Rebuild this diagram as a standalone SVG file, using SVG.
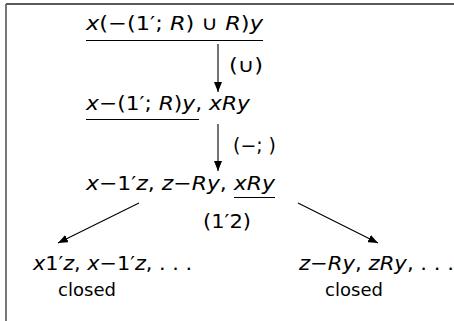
<svg xmlns="http://www.w3.org/2000/svg" width="454" height="321" viewBox="0 0 454 321">
<style>
text{font-family:"DejaVu Sans","Liberation Sans",sans-serif;fill:#000}
.m{font-size:20px}
.i{font-style:italic}
.lbl{font-size:19px}
.sm{font-size:18px}
.ul{stroke:#000;stroke-width:1.2}
.c{stroke:#000;stroke-width:1.1;fill:none}
</style>
<defs>
<marker id="ah" viewBox="0 0 10 8" refX="10" refY="4" markerWidth="10" markerHeight="8" markerUnits="userSpaceOnUse" orient="auto">
<path d="M0,0 L10,4 L0,8 Z" fill="#000"/>
</marker>
</defs>
<g id="frame">
<line x1="6" y1="4" x2="454" y2="4" stroke="#222" stroke-width="1.6"/>
<line x1="6" y1="4" x2="6" y2="321" stroke="#555" stroke-width="1.6"/>
</g>
<g id="n1">
<text class="m" x="86" y="30" textLength="177" lengthAdjust="spacingAndGlyphs"><tspan class="i">x</tspan>(−(1′; <tspan class="i">R</tspan>) ∪ <tspan class="i">R</tspan>)<tspan class="i">y</tspan></text>
<line class="ul" x1="86" y1="40.5" x2="263" y2="40.5"/>
</g>
<g id="n2">
<text class="m" x="86" y="110" textLength="164" lengthAdjust="spacingAndGlyphs"><tspan class="i">x</tspan>−(1′; <tspan class="i">R</tspan>)<tspan class="i">y</tspan>, <tspan class="i">xRy</tspan></text>
<line class="ul" x1="86" y1="119.5" x2="199" y2="119.5"/>
</g>
<g id="n3">
<text class="m" x="86" y="190" textLength="189" lengthAdjust="spacingAndGlyphs"><tspan class="i">x</tspan>−1′<tspan class="i">z</tspan>, <tspan class="i">z</tspan>−<tspan class="i">Ry</tspan>, <tspan class="i">xRy</tspan></text>
<line class="ul" x1="234" y1="197.5" x2="275" y2="197.5"/>
</g>
<g id="n4">
<text class="m" x="33" y="270" textLength="159" lengthAdjust="spacingAndGlyphs"><tspan class="i">x</tspan>1′<tspan class="i">z</tspan>, <tspan class="i">x</tspan>−1′<tspan class="i">z</tspan>, . . .</text>
<text class="sm" x="87" y="296" text-anchor="middle">closed</text>
</g>
<g id="n5">
<text class="m" x="299" y="270" textLength="155" lengthAdjust="spacingAndGlyphs"><tspan class="i">z</tspan>−<tspan class="i">Ry</tspan>, <tspan class="i">zRy</tspan>, . . .</text>
<text class="sm" x="354" y="296" text-anchor="middle">closed</text>
</g>
<g id="connectors">
<line class="c" x1="218" y1="44" x2="218" y2="92" marker-end="url(#ah)"/>
<text class="lbl" x="229" y="72" textLength="34" lengthAdjust="spacingAndGlyphs">(∪)</text>
<line class="c" x1="218" y1="124" x2="218" y2="171" marker-end="url(#ah)"/>
<text class="lbl" x="233" y="152" textLength="43" lengthAdjust="spacingAndGlyphs">(−; )</text>
<line class="c" x1="139" y1="203" x2="58" y2="243" marker-end="url(#ah)"/>
<line class="c" x1="298" y1="203" x2="378" y2="243" marker-end="url(#ah)"/>
<text class="lbl" x="203" y="228" textLength="48" lengthAdjust="spacingAndGlyphs">(1′2)</text>
</g>
</svg>
